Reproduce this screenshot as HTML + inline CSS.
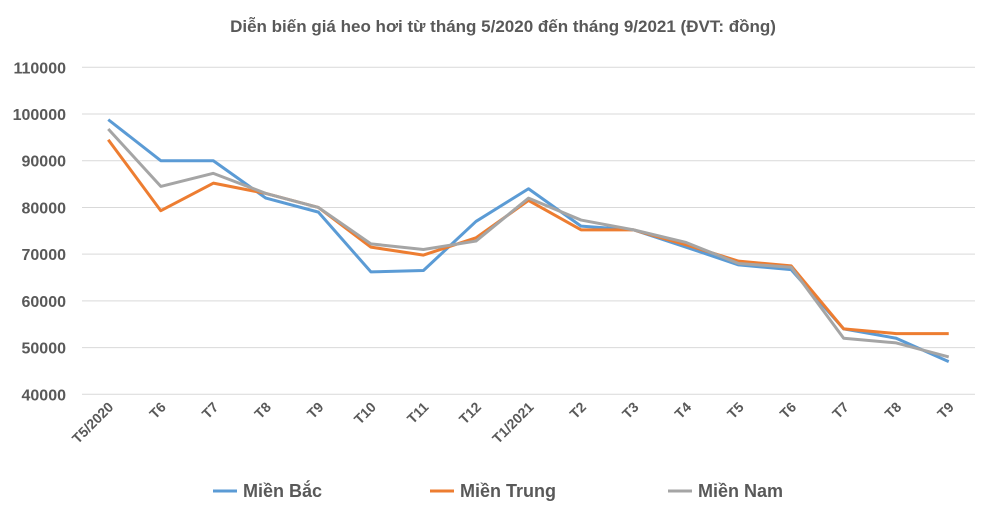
<!DOCTYPE html>
<html><head><meta charset="utf-8"><style>
body{margin:0;background:#fff;font-family:"Liberation Sans",sans-serif}
</style></head><body>
<svg id="chart" width="1007" height="511" xmlns="http://www.w3.org/2000/svg">
<text x="503" y="32" text-anchor="middle" font-size="17" font-weight="bold" fill="#595959">Diễn biến giá heo hơi từ tháng 5/2020 đến tháng 9/2021 (ĐVT: đồng)</text>
<g id="grid"></g><g id="yticks"></g><g id="xticks"></g><g id="lines"></g><g id="legend"></g>
</svg>
<script>
const categories=["T5/2020","T6","T7","T8","T9","T10","T11","T12","T1/2021","T2","T3","T4","T5","T6","T7","T8","T9"];
const mienBac=[98800,90000,90000,82000,79000,66200,66500,77000,84000,76000,75200,71500,67700,66700,54000,52000,47000];
const mienTrung=[94500,79300,85200,83000,80000,71500,69800,73500,81500,75200,75200,72000,68500,67500,54000,53000,53000];
const mienNam=[96800,84500,87300,83000,80000,72200,71000,72800,82000,77300,75200,72500,68000,67200,52000,51000,48000];
const yTicks=[40000,50000,60000,70000,80000,90000,100000,110000];
const NS="http://www.w3.org/2000/svg";
const plotLeft=82,plotRight=975,plotTop=67.3,plotBottom=394.3,yMin=40000,yMax=110000;
const step=(plotRight-plotLeft)/categories.length;
const xPos=i=>plotLeft+step*(i+0.5);
const yPos=v=>plotBottom-(v-yMin)/(yMax-yMin)*(plotBottom-plotTop);
function mk(t,a,p){const e=document.createElementNS(NS,t);for(const k in a)e.setAttribute(k,a[k]);p.appendChild(e);return e;}
const grid=document.getElementById('grid'),yt=document.getElementById('yticks'),xt=document.getElementById('xticks'),lines=document.getElementById('lines'),lg=document.getElementById('legend');
yTicks.forEach(v=>{
 const l=mk('line',{x1:plotLeft,x2:plotRight,y1:yPos(v),y2:yPos(v),stroke:'#d9d9d9','stroke-width':1},grid);
 
 
 const t=mk('text',{x:66,y:yPos(v)+6,'text-anchor':'end','font-size':16,'font-weight':'bold',fill:'#595959'},yt);
 t.textContent=v;
 
 
});
categories.forEach((c,i)=>{
 const tx=xPos(i)+6;
 const t=mk('text',{x:tx,y:408,'text-anchor':'end','font-size':14,'font-weight':'bold',fill:'#595959',transform:`rotate(-45 ${tx} 408)`},xt);
 t.textContent=c;
 
 
});
const series=[["mien-bac",mienBac,"#5b9bd5","Miền Bắc",213],["mien-trung",mienTrung,"#ed7d31","Miền Trung",430],["mien-nam",mienNam,"#a5a5a5","Miền Nam",668]];
series.forEach(([n,d,col,label,lx])=>{
 const p=mk('polyline',{points:d.map((v,i)=>xPos(i)+','+yPos(v)).join(' '),fill:'none',stroke:col,'stroke-width':3,'stroke-linejoin':'round'},lines);
 
 
 const g=mk('g',{},lg);
 
 
 mk('line',{x1:lx,x2:lx+24,y1:491,y2:491,stroke:col,'stroke-width':3},g);
 const t=mk('text',{x:lx+30,y:497,'font-size':18,'font-weight':'bold',fill:'#595959'},g);
 t.textContent=label;
});
</script>
</body></html>
